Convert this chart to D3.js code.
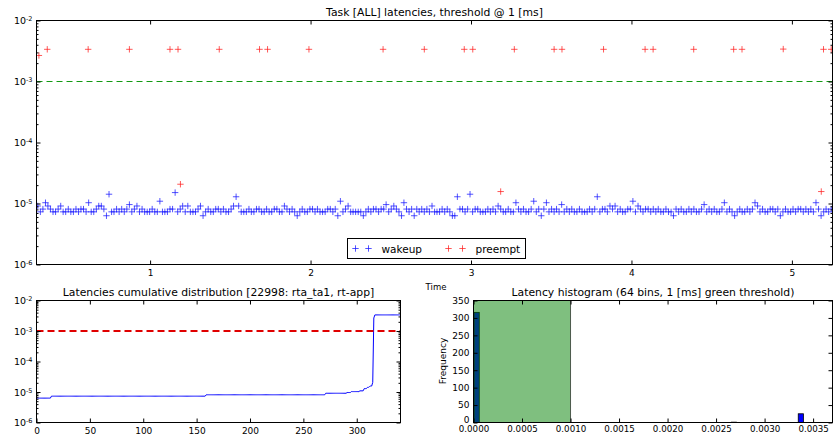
<!DOCTYPE html>
<html><head><meta charset="utf-8">
<script src="https://cdn.jsdelivr.net/npm/d3@7"></script>
<style>
body{margin:0;background:#fff;}
svg text{font-family:"DejaVu Sans",sans-serif;fill:#000;}
</style></head>
<body><svg id="c" width="833" height="435"></svg>
<script>
// ---------------- data ----------------
const wakeupTimes = [
0.300,0.316,0.332,0.348,0.363,0.379,0.395,0.411,0.427,0.443,0.458,0.474,0.490,0.506,0.522,0.538,0.554,0.569,0.585,0.601,
0.617,0.633,0.649,0.665,0.680,0.696,0.712,0.728,0.744,0.760,0.775,0.791,0.807,0.823,0.839,0.855,0.871,0.886,0.902,0.918,
0.934,0.950,0.966,0.982,0.997,1.013,1.029,1.045,1.061,1.077,1.092,1.108,1.124,1.140,1.156,1.172,1.188,1.203,1.219,1.235,
1.251,1.267,1.283,1.299,1.314,1.330,1.346,1.362,1.378,1.394,1.409,1.425,1.441,1.457,1.473,1.489,1.505,1.520,1.536,1.552,
1.568,1.584,1.600,1.616,1.631,1.647,1.663,1.679,1.695,1.711,1.726,1.742,1.758,1.774,1.790,1.806,1.822,1.837,1.853,1.869,
1.885,1.901,1.917,1.933,1.948,1.964,1.980,1.996,2.012,2.028,2.043,2.059,2.075,2.091,2.107,2.123,2.139,2.154,2.170,2.186,
2.202,2.218,2.234,2.250,2.265,2.281,2.297,2.313,2.329,2.345,2.360,2.376,2.392,2.408,2.424,2.440,2.456,2.471,2.487,2.503,
2.519,2.535,2.551,2.567,2.582,2.598,2.614,2.630,2.646,2.662,2.677,2.693,2.709,2.725,2.741,2.757,2.773,2.788,2.804,2.820,
2.836,2.852,2.868,2.884,2.899,2.915,2.931,2.947,2.963,2.979,2.994,3.010,3.026,3.042,3.058,3.074,3.090,3.105,3.121,3.137,
3.153,3.169,3.185,3.201,3.216,3.232,3.248,3.264,3.280,3.296,3.311,3.327,3.343,3.359,3.375,3.391,3.407,3.422,3.438,3.454,
3.470,3.486,3.502,3.518,3.533,3.549,3.565,3.581,3.597,3.613,3.628,3.644,3.660,3.676,3.692,3.708,3.724,3.739,3.755,3.771,
3.787,3.803,3.819,3.835,3.850,3.866,3.882,3.898,3.914,3.930,3.945,3.961,3.977,3.993,4.009,4.025,4.041,4.056,4.072,4.088,
4.104,4.120,4.136,4.152,4.167,4.183,4.199,4.215,4.231,4.247,4.262,4.278,4.294,4.310,4.326,4.342,4.358,4.373,4.389,4.405,
4.421,4.437,4.453,4.469,4.484,4.500,4.516,4.532,4.548,4.564,4.579,4.595,4.611,4.627,4.643,4.659,4.675,4.690,4.706,4.722,
4.738,4.754,4.770,4.786,4.801,4.817,4.833,4.849,4.865,4.881,4.896,4.912,4.928,4.944,4.960,4.976,4.992,5.007,5.023,5.039,
5.055,5.071,5.087,5.103,5.118,5.134,5.150,5.166,5.182,5.198,5.213,5.229,5.245];
// wakeup latencies in microseconds
const wakeupLatencyUs = [
9.1,7.3,8.1,10.3,9.1,8.1,7.3,7.3,8.1,9.1,7.3,7.3,8.1,7.3,7.3,8.1,7.3,8.1,8.1,7.3,
10.3,7.3,7.3,8.1,9.1,9.1,8.1,6.3,14.2,7.3,7.3,8.1,7.3,8.1,7.3,8.1,9.6,7.3,8.1,9.1,
7.3,8.1,7.3,7.3,7.3,8.1,7.3,7.3,10.9,7.3,7.3,7.3,8.1,8.1,15.1,7.3,8.1,9.1,7.3,9.1,
7.3,7.3,7.3,8.1,9.1,6.3,7.3,8.1,7.3,7.3,8.1,8.1,7.3,8.1,7.3,7.3,8.1,9.1,12.9,9.1,
7.3,7.3,7.3,8.1,7.3,7.3,8.1,8.1,7.3,7.3,8.1,7.3,7.3,8.1,8.1,7.3,7.3,9.1,8.1,7.3,
8.1,7.3,6.3,7.3,8.1,7.3,7.3,8.1,8.1,7.3,8.1,7.3,7.3,7.3,8.1,8.1,7.3,8.1,6.3,10.9,
7.3,8.1,9.1,7.3,7.3,7.3,7.3,7.3,6.3,7.3,8.1,7.3,8.1,8.1,7.3,8.1,8.1,9.6,7.3,8.1,
9.1,8.1,7.3,6.3,10.3,8.1,7.3,8.1,6.3,8.1,7.3,8.1,7.3,8.1,7.3,9.1,7.3,7.3,7.3,8.1,
7.3,8.1,7.3,6.3,6.3,12.9,8.1,8.1,7.3,8.1,14.2,7.3,8.1,8.1,7.3,7.3,7.3,8.1,7.3,8.1,
7.3,9.1,8.1,7.3,7.3,8.1,7.3,7.3,10.3,8.1,7.3,8.1,7.3,7.3,8.1,10.9,7.3,8.1,6.3,8.1,
10.3,7.3,8.1,7.3,8.1,7.3,9.6,7.3,8.1,7.3,8.1,7.3,7.3,8.1,7.3,7.3,7.3,8.1,7.3,8.1,
12.9,7.3,8.1,8.1,7.3,9.1,8.1,9.1,7.3,8.1,7.3,7.3,8.1,8.1,10.9,7.3,9.1,8.1,7.3,8.1,
8.1,7.3,8.1,7.3,8.1,7.3,7.3,8.1,7.3,7.3,6.3,8.1,7.3,8.1,7.3,7.3,8.1,7.3,8.1,7.3,
7.3,8.1,9.6,7.3,8.1,7.3,8.1,7.3,7.3,8.1,10.3,7.3,8.1,7.3,6.3,7.3,8.1,7.3,7.3,8.1,
7.3,8.1,10.3,9.1,7.3,8.1,7.3,7.3,8.1,8.1,7.3,8.1,6.3,7.3,8.1,7.3,7.3,8.1,7.3,8.1,
8.1,7.3,8.1,7.3,8.1,7.3,10.3,8.1,6.3,7.3,8.1,7.3,8.1];
const preemptTimes = [0.307,0.359,0.614,0.871,1.124,1.174,1.189,1.431,1.682,1.732,1.990,2.452,2.709,2.958,3.011,
3.185,3.270,3.518,3.567,3.826,4.085,4.135,4.388,4.637,4.689,4.946,5.183,5.197,5.245];
// preempt latencies in seconds
const preemptLatency = [2.67e-3,3.37e-3,3.37e-3,3.37e-3,3.37e-3,3.37e-3,2.07e-5,3.37e-3,3.37e-3,3.37e-3,3.37e-3,3.37e-3,3.37e-3,3.37e-3,3.37e-3,
1.57e-5,3.37e-3,3.37e-3,3.37e-3,3.37e-3,3.37e-3,3.37e-3,3.37e-3,3.37e-3,3.37e-3,3.40e-3,1.57e-5,3.37e-3,3.37e-3];

const thresholdSec = 1e-3;
const histBinCount = 64;
const logTicks = [1e-6,1e-5,1e-4,1e-3,1e-2];
const timeTicks = [1,2,3,4,5];
const timeLimits = [0.292,5.253];
const cdfTicks = [0,50,100,150,200,250,300];
const histXTicks = [0,0.0005,0.001,0.0015,0.002,0.0025,0.003,0.0035];
const histXLimits = [0,0.0037];
const histYTicks = [0,50,100,150,200,250,300,350];
const seriesNames = ["wakeup","preempt"];
const seriesColors = ["#1a1aff","#ff2020"];
const titles = ["Task [ALL] latencies, threshold @ 1 [ms]",
  "Latencies cumulative distribution [22998: rta_ta1, rt-app]",
  "Latency histogram (64 bins, 1 [ms] green threshold)"];

// ---------------- drawing ----------------
const svg = d3.select("#c");
const wakeup = wakeupTimes.map((t,i)=>({t, v: wakeupLatencyUs[i]*1e-6}));
const preempt = preemptTimes.map((t,i)=>({t, v: preemptLatency[i]}));
const allLat = wakeup.map(d=>d.v).concat(preempt.map(d=>d.v));

const TICK_FS = 9;

function logLabel(sel){
  sel.selectAll(".tick text").each(function(d){
    const t = d3.select(this);
    t.text(null).attr("font-size", 9.5);
    t.append("tspan").text("10");
    t.append("tspan").attr("dy","-0.45em").attr("font-size","6.5px").text(Math.round(Math.log10(d)));
  });
}

function axesBox(g, x, y, L, R, T, B, xTicks, xFmt, yTicks, yFmt, isLog, xPad, xFs){
  const mk = (axis, tx, ty, size, fmt, vals, pad, fs) => {
    const a = axis.tickValues(vals).tickSizeInner(size).tickSizeOuter(0).tickPadding(pad).tickFormat(fmt);
    const s = g.append("g").attr("transform",`translate(${tx},${ty})`).call(a);
    s.select(".domain").remove();
    s.selectAll("line").attr("stroke","#000");
    s.selectAll("text").attr("font-size",fs||TICK_FS).attr("font-family","DejaVu Sans");
    return s;
  };
  mk(d3.axisBottom(x),0,B,-4,xFmt,xTicks,xPad||5,xFs);
  mk(d3.axisTop(x),0,T,-4,()=>"",xTicks,3);
  const ly = mk(d3.axisLeft(y),L,0,-4,yFmt,yTicks,4);
  mk(d3.axisRight(y),R,0,-4,()=>"",yTicks,3);
  if(isLog){
    logLabel(ly);
    const minor = y.ticks().filter(v => !yTicks.some(m=>Math.abs(m-v)/v<1e-6));
    mk(d3.axisLeft(y),L,0,-2,()=>"",minor,3);
    mk(d3.axisRight(y),R,0,-2,()=>"",minor,3);
  }
  g.append("rect").attr("x",L).attr("y",T).attr("width",R-L).attr("height",B-T)
    .attr("fill","none").attr("stroke","#000").attr("stroke-width",1);
  return ly;
}

const plus = s => `M${-s},0H${s}M0,${-s}V${s}`;

// ---- top panel ----
{
  const L=36.5,R=832.5,T=20.5,B=264.5;
  const x = d3.scaleLinear().domain(timeLimits).range([L,R]);
  const y = d3.scaleLog().domain([logTicks[0],logTicks[logTicks.length-1]]).range([B,T]);
  const g = svg.append("g");
  svg.append("clipPath").attr("id","clipTop").append("rect").attr("x",L).attr("y",T).attr("width",R-L).attr("height",B-T);
  const pg = g.append("g").attr("clip-path","url(#clipTop)");
  pg.append("line").attr("x1",L).attr("x2",R).attr("y1",y(thresholdSec)).attr("y2",y(thresholdSec))
    .attr("stroke","#139a13").attr("stroke-width",1).attr("stroke-dasharray","6,4");
  pg.selectAll(".wk").data(wakeup).join("path").attr("class","wk")
    .attr("transform",d=>`translate(${x(d.t)},${y(d.v)})`).attr("d",plus(3.2))
    .attr("stroke",seriesColors[0]).attr("stroke-width",0.75).attr("fill","none");
  pg.selectAll(".pr").data(preempt).join("path").attr("class","pr")
    .attr("transform",d=>`translate(${x(d.t)},${y(d.v)})`).attr("d",plus(3.2))
    .attr("stroke",seriesColors[1]).attr("stroke-width",0.75).attr("fill","none");
  axesBox(g,x,y,L,R,T,B,timeTicks,d3.format("d"),logTicks,null,true);
  svg.append("text").attr("x",(L+R)/2).attr("y",16).attr("text-anchor","middle").attr("font-size",10.8).text(titles[0]);
  svg.append("text").attr("x",436).attr("y",290).attr("text-anchor","middle").attr("font-size",8.5).text("Time");
  // legend
  const lg = svg.append("g").attr("transform","translate(347.5,238.5)");
  lg.append("rect").attr("width",178).attr("height",20).attr("fill","#fff").attr("stroke","#000");
  const lx = [[8,21,34],[101,115,128]];
  seriesNames.forEach((n,i)=>{
    lg.append("path").attr("transform",`translate(${lx[i][0]},10)`).attr("d",plus(3.2)).attr("stroke",seriesColors[i]).attr("stroke-width",0.75);
    lg.append("path").attr("transform",`translate(${lx[i][1]},10)`).attr("d",plus(3.2)).attr("stroke",seriesColors[i]).attr("stroke-width",0.75);
    lg.append("text").attr("x",lx[i][2]).attr("y",14).attr("font-size",10.5).text(n);
  });
}

// ---- bottom-left CDF ----
{
  const L=36.5,R=400.5,T=300.5,B=422.5;
  const sorted = allLat.slice().sort(d3.ascending);
  const x = d3.scaleLinear().domain([0, sorted.length-1]).range([L,R]);
  const y = d3.scaleLog().domain([logTicks[0],logTicks[logTicks.length-1]]).range([B,T]);
  const g = svg.append("g");
  g.append("path").datum(sorted).attr("fill","none").attr("stroke","#0000ff").attr("stroke-width",1)
    .attr("d", d3.line().x((d,i)=>x(i)).y(d=>y(d)));
  g.append("line").attr("x1",L).attr("x2",R).attr("y1",y(thresholdSec)).attr("y2",y(thresholdSec))
    .attr("stroke","#e00000").attr("stroke-width",2).attr("stroke-dasharray","7,4");
  axesBox(g,x,y,L,R,T,B,cdfTicks,d3.format("d"),logTicks,null,true);
  svg.append("text").attr("x",(L+R)/2).attr("y",296).attr("text-anchor","middle").attr("font-size",10.8).text(titles[1]);
}

// ---- bottom-right histogram ----
{
  const L=473.5,R=832.5,T=300.5,B=422.5;
  const x = d3.scaleLinear().domain(histXLimits).range([L,R]);
  const y = d3.scaleLinear().domain([histYTicks[0],histYTicks[histYTicks.length-1]]).range([B,T]);
  const [mn,mx] = d3.extent(allLat);
  const step = (mx-mn)/histBinCount;
  const bins = d3.bin().domain([mn,mx]).thresholds(d3.range(1,histBinCount).map(i=>mn+i*step))(allLat);
  const g = svg.append("g");
  g.selectAll(".bar").data(bins.filter(b=>b.length>0)).join("rect").attr("class","bar")
    .attr("x",d=>x(d.x0)).attr("width",d=>Math.max(0,x(d.x1)-x(d.x0)))
    .attr("y",d=>y(d.length)).attr("height",d=>y(0)-y(d.length))
    .attr("fill","#0000ff").attr("stroke","#000").attr("stroke-width",0.8);
  g.append("rect").attr("x",x(0)).attr("width",x(thresholdSec)-x(0)).attr("y",T).attr("height",B-T)
    .attr("fill","#008000").attr("fill-opacity",0.5).attr("stroke","#000").attr("stroke-opacity",0.6);
  const ly = axesBox(g,x,y,L,R,T,B,histXTicks,d3.format(".4f"),histYTicks,d3.format("d"),false,3.5,8.7);
  ly.selectAll(".tick text").filter(d=>d===0).attr("dy","0.05em");
  svg.append("text").attr("x",(L+R)/2).attr("y",296).attr("text-anchor","middle").attr("font-size",10.8).text(titles[2]);
  svg.append("text").attr("transform","translate(446,361) rotate(-90)").attr("text-anchor","middle").attr("font-size",9).text("Frequency");
}
</script></body></html>
